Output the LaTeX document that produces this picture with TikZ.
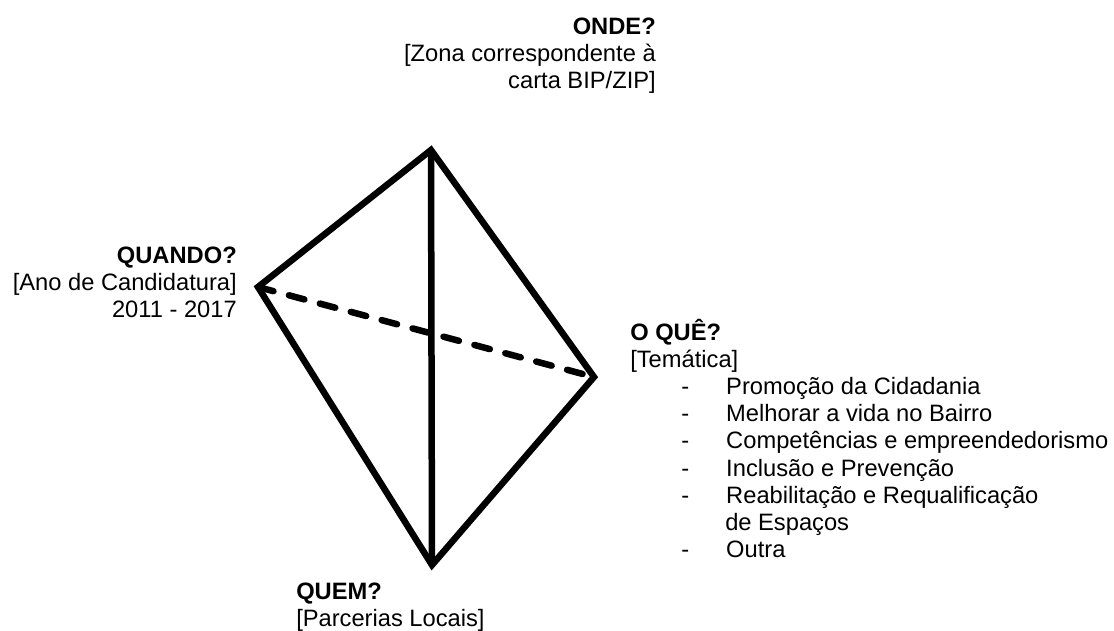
\documentclass[tikz,border=0pt]{standalone}
\usepackage{fontspec}
\setmainfont{Liberation Sans}
\newcommand{\tema}[1]{\hspace*{51pt}\makebox[45pt][l]{-}#1}
\begin{document}
\begin{tikzpicture}[x=1pt,y=-1pt,line width=6.5pt,
	texto/.style={inner sep=0pt, font=\fontsize{23.7}{27.2}\selectfont}]
	\useasboundingbox (0,0) rectangle (1114,630);
	\coordinate (T) at (431,150);
	\coordinate (L) at (258,287);
	\coordinate (R) at (594,377);
	\coordinate (B) at (432,565);
	\draw (T) -- (L) -- (B) -- (R) -- cycle;
	\draw (T) -- (B);
	\draw [line cap=round, dash pattern=on 16pt off 16pt] (L) -- (R);
	\node (onde) at (659,14.7) [texto, anchor=north east, align=right] {\textbf{ONDE?}\\{[}Zona correspondente à\\carta BIP/ZIP{]}};
	\node (quando) at (240,243.7) [texto, anchor=north east, align=right] {\textbf{QUANDO?}\\{[}Ano de Candidatura{]}\\2011 - 2017};
	\node (oque) at (627,315.6) [texto, anchor=north west, align=left] {\textbf{O QUÊ?}\\{[}Temática{]}\\
		\tema{Promoção da Cidadania}\\
		\tema{Melhorar a vida no Bairro}\\
		\tema{Competências e empreendedorismo}\\
		\tema{Inclusão e Prevenção}\\
		\tema{Reabilitação e Requalificação}\\
		\hspace*{95pt}de Espaços\\
		\tema{Outra}};
	\node (quem) at (293,579.7) [texto, anchor=north west, align=left] {\textbf{QUEM?}\\{[}Parcerias Locais{]}};
\end{tikzpicture}
\end{document}
